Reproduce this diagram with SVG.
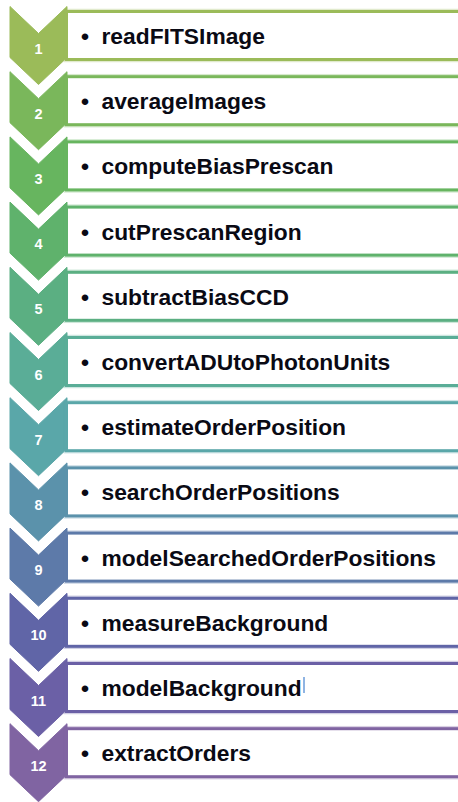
<svg xmlns="http://www.w3.org/2000/svg" width="458" height="802" viewBox="0 0 458 802">
  <style>
    .chev { stroke: none; }
    .box { fill: #ffffff; stroke-width: 3; }
    .halo { fill: none; stroke-width: 5.5; stroke-opacity: 0.3; }
    .num { font-family: "Liberation Sans", Arial, sans-serif; font-weight: bold; font-size: 14.5px; fill: #ffffff; text-anchor: middle; }
    .lbl { font-family: "Liberation Sans", Arial, sans-serif; font-weight: bold; font-size: 22.8px; fill: #0a0a14; }
    .s1 { fill: #9bbb59; stroke: #9bbb59; }
    .s2 { fill: #7ab75b; stroke: #7ab75b; }
    .s3 { fill: #67b55f; stroke: #67b55f; }
    .s4 { fill: #5fb26c; stroke: #5fb26c; }
    .s5 { fill: #5baf82; stroke: #5baf82; }
    .s6 { fill: #5aad97; stroke: #5aad97; }
    .s7 { fill: #5aa7a9; stroke: #5aa7a9; }
    .s8 { fill: #5b92ab; stroke: #5b92ab; }
    .s9 { fill: #5d7aa9; stroke: #5d7aa9; }
    .s10 { fill: #6065a7; stroke: #6065a7; }
    .s11 { fill: #6b60a6; stroke: #6b60a6; }
    .s12 { fill: #8064a2; stroke: #8064a2; }
  </style>
  <defs>
    <!-- downward chevron, 57 wide, 45 degree notch and point -->
    <polygon id="chevron" points="10,0 38.5,27 67,0 67,51 38.5,78 10,51"/>
  </defs>
  <rect width="458" height="802" fill="#ffffff"/>

  <g id="step1" transform="translate(0,6.5)">
    <use href="#chevron" class="chev s1"/>
    <text class="num" x="38.5" y="47">1</text>
    <rect class="halo s1" x="66.5" y="5" width="420" height="48" style="fill:none"/>
    <rect class="box s1" x="66.5" y="5" width="420" height="48" style="fill:#ffffff"/>
    <text class="lbl" y="37.5"><tspan x="81">•</tspan><tspan x="101.5">readFITSImage</tspan></text>
  </g>
  <g id="step2" transform="translate(0,71.7)">
    <use href="#chevron" class="chev s2"/>
    <text class="num" x="38.5" y="47">2</text>
    <rect class="halo s2" x="66.5" y="5" width="420" height="48" style="fill:none"/>
    <rect class="box s2" x="66.5" y="5" width="420" height="48" style="fill:#ffffff"/>
    <text class="lbl" y="37.5"><tspan x="81">•</tspan><tspan x="101.5">averageImages</tspan></text>
  </g>
  <g id="step3" transform="translate(0,136.9)">
    <use href="#chevron" class="chev s3"/>
    <text class="num" x="38.5" y="47">3</text>
    <rect class="halo s3" x="66.5" y="5" width="420" height="48" style="fill:none"/>
    <rect class="box s3" x="66.5" y="5" width="420" height="48" style="fill:#ffffff"/>
    <text class="lbl" y="37.5"><tspan x="81">•</tspan><tspan x="101.5">computeBiasPrescan</tspan></text>
  </g>
  <g id="step4" transform="translate(0,202.1)">
    <use href="#chevron" class="chev s4"/>
    <text class="num" x="38.5" y="47">4</text>
    <rect class="halo s4" x="66.5" y="5" width="420" height="48" style="fill:none"/>
    <rect class="box s4" x="66.5" y="5" width="420" height="48" style="fill:#ffffff"/>
    <text class="lbl" y="37.5"><tspan x="81">•</tspan><tspan x="101.5">cutPrescanRegion</tspan></text>
  </g>
  <g id="step5" transform="translate(0,267.3)">
    <use href="#chevron" class="chev s5"/>
    <text class="num" x="38.5" y="47">5</text>
    <rect class="halo s5" x="66.5" y="5" width="420" height="48" style="fill:none"/>
    <rect class="box s5" x="66.5" y="5" width="420" height="48" style="fill:#ffffff"/>
    <text class="lbl" y="37.5"><tspan x="81">•</tspan><tspan x="101.5">subtractBiasCCD</tspan></text>
  </g>
  <g id="step6" transform="translate(0,332.5)">
    <use href="#chevron" class="chev s6"/>
    <text class="num" x="38.5" y="47">6</text>
    <rect class="halo s6" x="66.5" y="5" width="420" height="48" style="fill:none"/>
    <rect class="box s6" x="66.5" y="5" width="420" height="48" style="fill:#ffffff"/>
    <text class="lbl" y="37.5"><tspan x="81">•</tspan><tspan x="101.5">convertADUtoPhotonUnits</tspan></text>
  </g>
  <g id="step7" transform="translate(0,397.7)">
    <use href="#chevron" class="chev s7"/>
    <text class="num" x="38.5" y="47">7</text>
    <rect class="halo s7" x="66.5" y="5" width="420" height="48" style="fill:none"/>
    <rect class="box s7" x="66.5" y="5" width="420" height="48" style="fill:#ffffff"/>
    <text class="lbl" y="37.5"><tspan x="81">•</tspan><tspan x="101.5">estimateOrderPosition</tspan></text>
  </g>
  <g id="step8" transform="translate(0,462.9)">
    <use href="#chevron" class="chev s8"/>
    <text class="num" x="38.5" y="47">8</text>
    <rect class="halo s8" x="66.5" y="5" width="420" height="48" style="fill:none"/>
    <rect class="box s8" x="66.5" y="5" width="420" height="48" style="fill:#ffffff"/>
    <text class="lbl" y="37.5"><tspan x="81">•</tspan><tspan x="101.5">searchOrderPositions</tspan></text>
  </g>
  <g id="step9" transform="translate(0,528.1)">
    <use href="#chevron" class="chev s9"/>
    <text class="num" x="38.5" y="47">9</text>
    <rect class="halo s9" x="66.5" y="5" width="420" height="48" style="fill:none"/>
    <rect class="box s9" x="66.5" y="5" width="420" height="48" style="fill:#ffffff"/>
    <text class="lbl" y="37.5"><tspan x="81">•</tspan><tspan x="101.5">modelSearchedOrderPositions</tspan></text>
  </g>
  <g id="step10" transform="translate(0,593.3)">
    <use href="#chevron" class="chev s10"/>
    <text class="num" x="38.5" y="47">10</text>
    <rect class="halo s10" x="66.5" y="5" width="420" height="48" style="fill:none"/>
    <rect class="box s10" x="66.5" y="5" width="420" height="48" style="fill:#ffffff"/>
    <text class="lbl" y="37.5"><tspan x="81">•</tspan><tspan x="101.5">measureBackground</tspan></text>
  </g>
  <g id="step11" transform="translate(0,658.5)">
    <use href="#chevron" class="chev s11"/>
    <text class="num" x="38.5" y="47">11</text>
    <rect class="halo s11" x="66.5" y="5" width="420" height="48" style="fill:none"/>
    <rect class="box s11" x="66.5" y="5" width="420" height="48" style="fill:#ffffff"/>
    <text class="lbl" y="37.5"><tspan x="81">•</tspan><tspan x="101.5">modelBackground</tspan></text>
    <!-- text caret left in the box -->
    <rect x="303" y="18.5" width="2" height="16" fill="#8fb4e3"/>
  </g>
  <g id="step12" transform="translate(0,723.7)">
    <use href="#chevron" class="chev s12"/>
    <text class="num" x="38.5" y="47">12</text>
    <rect class="halo s12" x="66.5" y="5" width="420" height="48" style="fill:none"/>
    <rect class="box s12" x="66.5" y="5" width="420" height="48" style="fill:#ffffff"/>
    <text class="lbl" y="37.5"><tspan x="81">•</tspan><tspan x="101.5">extractOrders</tspan></text>
  </g>
</svg>
